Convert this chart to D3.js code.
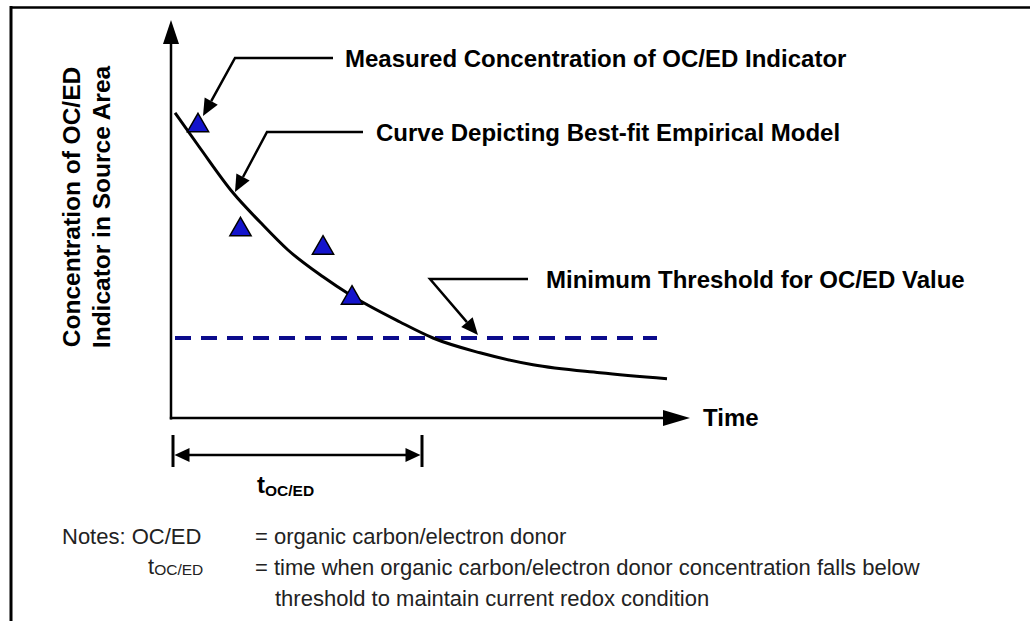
<!DOCTYPE html>
<html>
<head>
<meta charset="utf-8">
<script src="https://cdn.jsdelivr.net/npm/d3@7"></script>
<style>
  html, body { margin: 0; padding: 0; background: #fff; }
  svg { display: block; font-family: Arial, "Liberation Sans", sans-serif; }
</style>
</head>
<body>
<div id="chart-area"></div>
<script>
// values (time and concentration in arbitrary units 0-10)
const curveTime = [0.08, 0.58, 1.24, 1.78, 2.34, 3.04, 3.58, 4.58, 5.24, 6.18, 7.24, 8.58, 9.92];
const curveConc = [7.63, 6.75, 5.63, 4.90, 4.20, 3.53, 3.08, 2.40, 2.00, 1.63, 1.33, 1.13, 0.98];

const measuredTime = [0.54, 1.39, 3.04, 3.62];
const measuredConc = [7.36, 4.76, 4.30, 3.05];

const thresholdConc = 2.0;
const thresholdSpan = [0.08, 9.72];
const tOCED = 5.02;

const axisEndTime = 10.38;
const axisEndConc = 9.95;

const yLabelLines = ['Concentration of OC/ED', 'Indicator in Source Area'];

// sizes
const width = 1030;
const height = 621;
const margin = { left: 171, top: 18 };
const plotW = 500;
const plotH = 400;

const svg = d3.select('#chart-area').append('svg')
    .attr('width', width)
    .attr('height', height);

// frame (top and left edges only are visible in the picture)
svg.append('line')
    .attr('x1', 11).attr('x2', width).attr('y1', 7.5).attr('y2', 7.5)
    .attr('stroke', '#000').attr('stroke-width', 2.5);
svg.append('line')
    .attr('x1', 11).attr('x2', 11).attr('y1', 6).attr('y2', height)
    .attr('stroke', '#000').attr('stroke-width', 3);

const x = d3.scaleLinear().domain([0, 10]).range([margin.left, margin.left + plotW]);
const y = d3.scaleLinear().domain([0, 10]).range([margin.top + plotH, margin.top]);

// draws a filled arrow head with its tip at (tx,ty) coming from (fx,fy)
function arrowHead(g, fx, fy, tx, ty, len, half) {
    const a = Math.atan2(ty - fy, tx - fx);
    const bx = tx - len * Math.cos(a), by = ty - len * Math.sin(a);
    const nx = -Math.sin(a) * half, ny = Math.cos(a) * half;
    g.append('path')
        .attr('d', `M${tx},${ty}L${bx + nx},${by + ny}L${bx - nx},${by - ny}Z`)
        .attr('fill', '#000');
    return [bx, by];
}

const g = svg.append('g');

// axes
const x0 = x(0), y0 = y(0);
const xTip = x(axisEndTime), yTip = y(axisEndConc);
g.append('line')
    .attr('x1', x0).attr('y1', y0 + 1.5).attr('x2', x0).attr('y2', yTip + 20)
    .attr('stroke', '#000').attr('stroke-width', 2.5);
arrowHead(g, x0, y0, x0, yTip, 24, 8);
g.append('line')
    .attr('x1', x0 - 1.2).attr('y1', y0).attr('x2', xTip - 20).attr('y2', y0)
    .attr('stroke', '#000').attr('stroke-width', 2.5);
arrowHead(g, x0, y0, xTip, y0, 27, 8);

g.append('text')
    .attr('x', xTip + 13).attr('y', y0 + 8)
    .attr('font-size', '24px').attr('font-weight', 'bold')
    .text('Time');

// y label
const yLab = g.append('text')
    .attr('transform', 'translate(80, 207) rotate(-90)')
    .attr('text-anchor', 'middle')
    .attr('font-size', '24.5px').attr('font-weight', 'bold');
yLabelLines.forEach((t, i) => {
    yLab.append('tspan').attr('x', 0).attr('dy', i === 0 ? 0 : 30).text(t);
});

// threshold line
g.append('line')
    .attr('x1', x(thresholdSpan[0])).attr('x2', x(thresholdSpan[1]))
    .attr('y1', y(thresholdConc)).attr('y2', y(thresholdConc))
    .attr('stroke', '#0b0b8c').attr('stroke-width', 4)
    .attr('stroke-dasharray', '16,10');

// best fit curve
const curvePts = curveTime.map((t, i) => [t, curveConc[i]]);
const line = d3.line()
    .x(d => x(d[0]))
    .y(d => y(d[1]))
    .curve(d3.curveMonotoneX);
g.append('path')
    .datum(curvePts)
    .attr('d', line)
    .attr('fill', 'none')
    .attr('stroke', '#000')
    .attr('stroke-width', 3);

// measured points
const tri = d3.symbol().type(d3.symbolTriangle).size(195);
g.selectAll('.pt')
    .data(measuredTime.map((t, i) => [t, measuredConc[i]]))
    .enter().append('path')
    .attr('class', 'pt')
    .attr('d', tri)
    .attr('transform', d => `translate(${x(d[0])}, ${y(d[1]) + 2})`)
    .attr('fill', '#1414cc')
    .attr('stroke', '#000')
    .attr('stroke-width', 1.5);

// callouts: [line start, elbow, tip], text position
const callouts = [
    { pts: [[333, 58], [235, 58], [203, 116]], tx: 345, ty: 67, label: 'Measured Concentration of OC/ED Indicator' },
    { pts: [[363, 132], [267, 132], [235, 192]], tx: 376, ty: 141, label: 'Curve Depicting Best-fit Empirical Model' },
    { pts: [[528, 279], [430, 279], [478, 335]], tx: 546, ty: 288, label: 'Minimum Threshold for OC/ED Value' }
];
callouts.forEach(c => {
    const [p0, p1, p2] = c.pts;
    const base = arrowHead(g, p1[0], p1[1], p2[0], p2[1], 17, 7.5);
    g.append('path')
        .attr('d', `M${p0[0]},${p0[1]}L${p1[0]},${p1[1]}L${base[0]},${base[1]}`)
        .attr('fill', 'none').attr('stroke', '#000').attr('stroke-width', 2.5)
        .attr('stroke-linejoin', 'miter');
    g.append('text')
        .attr('x', c.tx).attr('y', c.ty)
        .attr('font-size', '24px').attr('font-weight', 'bold')
        .text(c.label);
});

// t_OC/ED interval
const iy = 455;
const ix0 = x(0) + 2, ix1 = x(tOCED);
[ix0, ix1].forEach(v => {
    g.append('line').attr('x1', v).attr('x2', v).attr('y1', 435).attr('y2', 467)
        .attr('stroke', '#000').attr('stroke-width', 3);
});
arrowHead(g, ix1, iy, ix0 + 1.5, iy, 15, 7);
arrowHead(g, ix0, iy, ix1 - 1.5, iy, 15, 7);
g.append('line').attr('x1', ix0 + 14).attr('x2', ix1 - 14).attr('y1', iy).attr('y2', iy)
    .attr('stroke', '#000').attr('stroke-width', 2.5);

const tl = g.append('text')
    .attr('x', 257).attr('y', 493)
    .attr('font-weight', 'bold').attr('font-size', '24px');
tl.append('tspan').text('t');
tl.append('tspan').attr('font-size', '15.5px').attr('dy', 3).text('OC/ED');

// notes
const notes = g.append('g').attr('fill', '#222').attr('font-size', '22px');
notes.append('text').attr('x', 62).attr('y', 544).text('Notes: OC/ED');
notes.append('text').attr('x', 255).attr('y', 544).text('=  organic carbon/electron donor');
const nt = notes.append('text').attr('x', 148).attr('y', 574);
nt.append('tspan').text('t');
nt.append('tspan').attr('font-size', '15.5px').attr('dy', 1).text('OC/ED');
notes.append('text').attr('x', 255).attr('y', 575)
    .text('=  time when organic carbon/electron donor concentration falls below');
notes.append('text').attr('x', 275).attr('y', 606)
    .text('threshold to maintain current redox condition');
</script>
</body>
</html>
